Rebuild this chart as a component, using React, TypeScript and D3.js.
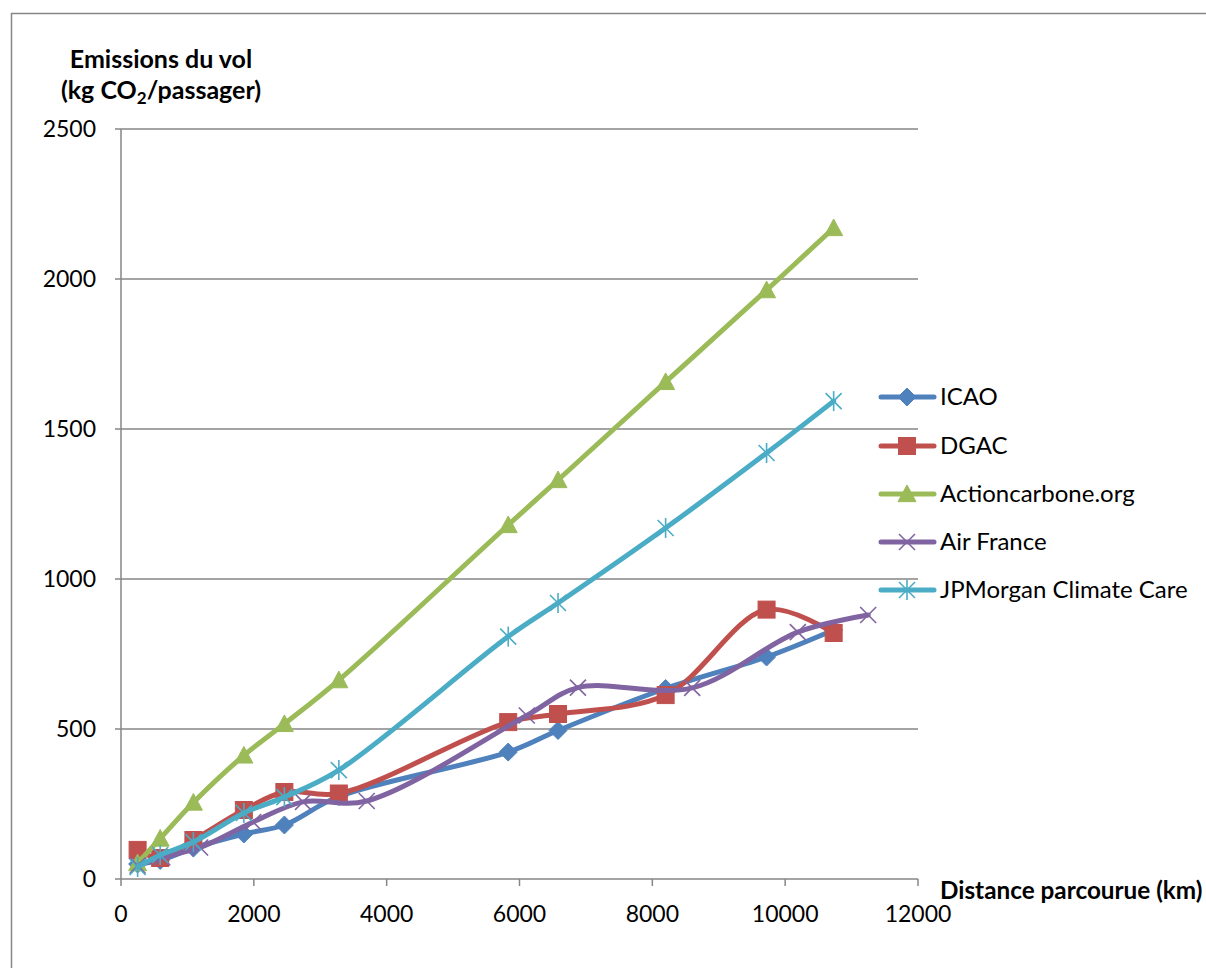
import React from "react";
import * as d3 from "d3";

const seriesNames = ["ICAO", "DGAC", "Actioncarbone.org", "Air France", "JPMorgan Climate Care"];
const seriesColors = ["#4F81BD", "#C0504D", "#9BBB59", "#8064A2", "#4BACC6"];
const seriesMarkers = ["diamond", "square", "triangle", "x", "star"];

const commonDistances = [250, 590, 1090, 1850, 2460, 3280, 5830, 6580, 8200, 9720, 10730];
const airFranceDistances = [250, 620, 1190, 1990, 2740, 3700, 6110, 6880, 8600, 10190, 11250];

const icaoValues = [50, 62, 103, 150, 180, 275, 423, 495, 635, 740, 830];
const dgacValues = [97, 70, 130, 230, 290, 285, 523, 550, 613, 898, 820];
const actionValues = [53, 135, 255, 412, 517, 663, 1180, 1330, 1657, 1963, 2170];
const airFranceValues = [45, 72, 105, 190, 257, 260, 545, 638, 637, 823, 880];
const jpmValues = [40, 80, 123, 220, 273, 363, 808, 920, 1170, 1420, 1593];

const xTicks = [0, 2000, 4000, 6000, 8000, 10000, 12000];
const yTicks = [0, 500, 1000, 1500, 2000, 2500];

const FONT = "Lato, 'Open Sans', sans-serif";

function Marker({ type, color, x, y }: { type: string; color: string; x: number; y: number }) {
  if (type === "diamond") {
    const r = 9;
    return <path d={`M${x},${y - r}L${x + r},${y}L${x},${y + r}L${x - r},${y}Z`} fill={color} stroke={color} strokeWidth={1} />;
  }
  if (type === "square") {
    const s = 17;
    return <rect x={x - s / 2} y={y - s / 2} width={s} height={s} fill={color} stroke={color} strokeWidth={1} />;
  }
  if (type === "triangle") {
    const w = 9, h = 9;
    return <path d={`M${x},${y - h}L${x + w},${y + h * 0.85}L${x - w},${y + h * 0.85}Z`} fill={color} stroke={color} strokeWidth={1} />;
  }
  if (type === "x") {
    const r = 8;
    return (
      <g stroke={color} strokeWidth={1.6}>
        <line x1={x - r} y1={y - r} x2={x + r} y2={y + r} />
        <line x1={x - r} y1={y + r} x2={x + r} y2={y - r} />
      </g>
    );
  }
  const r = 8;
  return (
    <g stroke={color} strokeWidth={1.6}>
      <line x1={x - r} y1={y - r} x2={x + r} y2={y + r} />
      <line x1={x - r} y1={y + r} x2={x + r} y2={y - r} />
      <line x1={x} y1={y - r * 1.25} x2={x} y2={y + r * 1.25} />
    </g>
  );
}

export default function App() {
  const x = d3.scaleLinear().domain([0, 12000]).range([121, 918]);
  const y = d3.scaleLinear().domain([0, 2500]).range([879, 129]);

  const series = [
    { xs: commonDistances, ys: icaoValues },
    { xs: commonDistances, ys: dgacValues },
    { xs: commonDistances, ys: actionValues },
    { xs: airFranceDistances, ys: airFranceValues },
    { xs: commonDistances, ys: jpmValues },
  ];

  const line = d3
    .line<[number, number]>()
    .x((d) => x(d[0]))
    .y((d) => y(d[1]))
    .curve(d3.curveCatmullRom.alpha(0.5));

  const legendY = [397, 446, 494, 542, 590];

  return (
    <svg width={1206} height={968} style={{ position: "absolute", left: 0, top: 0, background: "#fff" }}>
      <rect x={0} y={0} width={1206} height={968} fill="#fff" />
      <rect x={11.5} y={13.5} width={1300} height={1000} fill="none" stroke="#868686" strokeWidth={1.5} />

      {yTicks.map((t) => (
        <line key={"g" + t} x1={115} x2={918} y1={y(t)} y2={y(t)} stroke="#868686" strokeWidth={1.5} />
      ))}
      <line x1={121} x2={121} y1={129} y2={879} stroke="#868686" strokeWidth={1.5} />
      {xTicks.map((t) => (
        <line key={"xt" + t} x1={x(t)} x2={x(t)} y1={879} y2={886} stroke="#868686" strokeWidth={1.5} />
      ))}

      {yTicks.map((t) => (
        <text key={"yl" + t} x={96} y={y(t) + 8} textAnchor="end" fontFamily={FONT} fontSize={23} fill="#000">
          {t}
        </text>
      ))}
      {xTicks.map((t) => (
        <text key={"xl" + t} x={x(t)} y={922} textAnchor="middle" fontFamily={FONT} fontSize={23} fill="#000">
          {t}
        </text>
      ))}

      <text x={161} y={68} textAnchor="middle" fontFamily={FONT} fontSize={25} fontWeight="bold" fill="#000">
        Emissions du vol
      </text>
      <text x={161} y={99} textAnchor="middle" fontFamily={FONT} fontSize={25} fontWeight="bold" fill="#000">
        (kg CO<tspan fontSize={17} dy={5}>2</tspan>
        <tspan dy={-5}>/passager)</tspan>
      </text>
      <text x={940} y={899} fontFamily={FONT} fontSize={24.3} fontWeight="bold" fill="#000">
        Distance parcourue (km)
      </text>

      {series.map((s, i) => {
        const pts = s.xs.map((d, j) => [d, s.ys[j]] as [number, number]);
        return (
          <g key={"s" + i}>
            <path d={line(pts) || ""} fill="none" stroke={seriesColors[i]} strokeWidth={5} strokeLinecap="round" strokeLinejoin="round" />
            {pts.map((p, j) => (
              <Marker key={j} type={seriesMarkers[i]} color={seriesColors[i]} x={x(p[0])} y={y(p[1])} />
            ))}
          </g>
        );
      })}

      {seriesNames.map((n, i) => (
        <g key={"l" + i}>
          <line x1={881} x2={934} y1={legendY[i]} y2={legendY[i]} stroke={seriesColors[i]} strokeWidth={5} strokeLinecap="round" />
          <Marker type={seriesMarkers[i]} color={seriesColors[i]} x={907} y={legendY[i]} />
          <text x={940} y={legendY[i] + 8} fontFamily={FONT} fontSize={24} fill="#000">
            {n}
          </text>
        </g>
      ))}
    </svg>
  );
}
